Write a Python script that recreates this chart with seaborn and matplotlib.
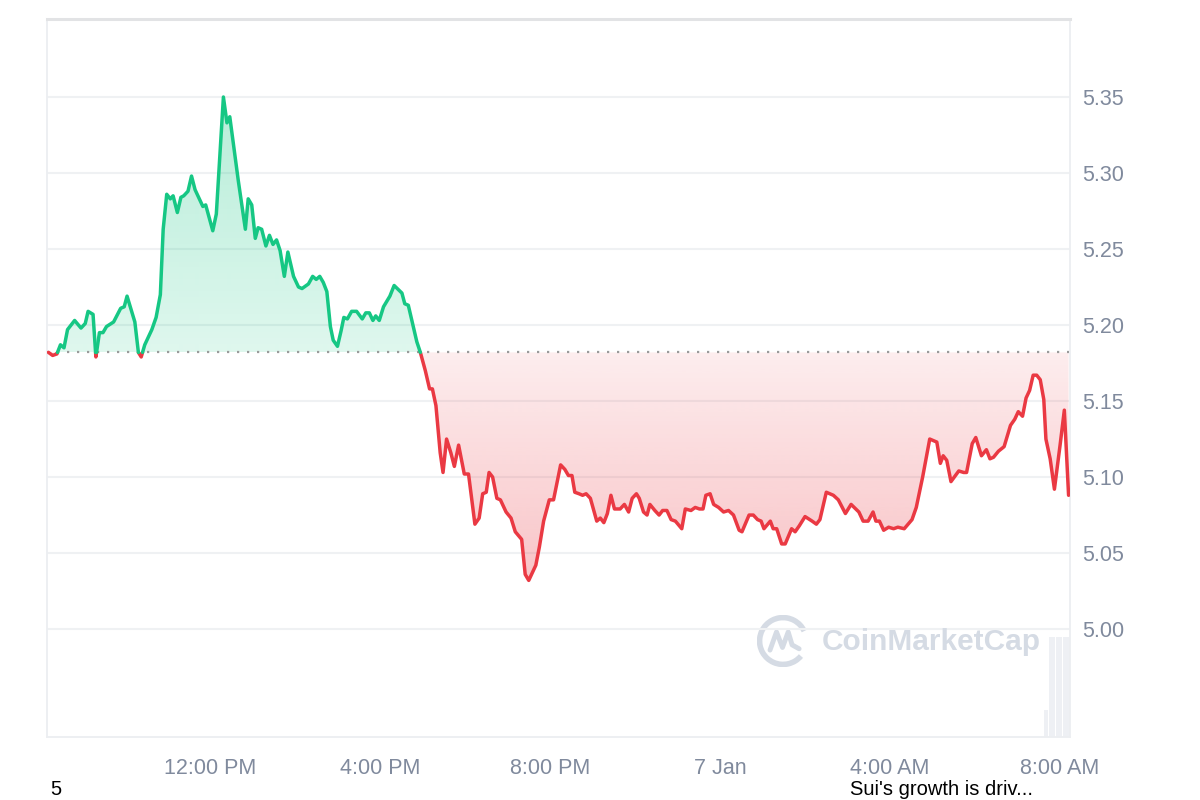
import numpy as np
import pandas as pd
import matplotlib
matplotlib.use('Agg')
import matplotlib.pyplot as plt
import seaborn as sns
from matplotlib.patches import Arc

# SUI price, 1 day view. minutes are counted from 08:10 on 6 Jan
minutes = [2, 8, 14, 19, 24, 29, 39, 48, 54, 58, 65, 69, 74, 79, 84, 94, 104, 109, 113, 124,
           129, 133, 138, 148, 154, 160, 164, 169, 174, 178, 184, 189, 193, 199, 204, 209, 215, 220, 224, 234,
           239, 249, 254, 258, 270, 280, 284, 289, 294, 298, 303, 309, 314, 319, 324, 329, 335, 340, 348, 355,
           360, 369, 375, 380, 385, 390, 395, 400, 404, 410, 415, 419, 424, 430, 437, 445, 450, 455, 460, 464,
           469, 475, 484, 490, 501, 505, 510, 522, 527, 534, 540, 544, 549, 555, 559, 564, 570, 575, 581, 589,
           595, 604, 610, 615, 620, 624, 629, 635, 640, 648, 655, 661, 670, 675, 680, 690, 695, 701, 709, 715,
           725, 731, 736, 741, 745, 751, 756, 761, 767, 776, 781, 786, 791, 796, 801, 809, 815, 821, 826, 832,
           836, 842, 847, 851, 858, 864, 869, 875, 881, 887, 896, 901, 909, 915, 921, 926, 930, 936, 941, 948,
           955, 962, 969, 977, 981, 991, 997, 1003, 1008, 1012, 1021, 1025, 1030, 1037, 1042, 1051, 1056, 1062, 1070, 1080,
           1086, 1091, 1100, 1110, 1117, 1127, 1135, 1146, 1152, 1159, 1166, 1170, 1175, 1181, 1188, 1195, 1201, 1210, 1221, 1227,
           1236, 1246, 1256, 1261, 1265, 1270, 1276, 1287, 1294, 1298, 1306, 1311, 1319, 1326, 1331, 1336, 1343, 1351, 1360, 1366,
           1371, 1377, 1382, 1387, 1392, 1397, 1402, 1407, 1410, 1416, 1422, 1430, 1436, 1442]
prices = [5.182, 5.180, 5.181, 5.187, 5.185, 5.197, 5.203, 5.198, 5.201, 5.209, 5.207, 5.179, 5.195, 5.195, 5.199, 5.202, 5.211, 5.212, 5.219, 5.202,
          5.182, 5.179, 5.187, 5.197, 5.205, 5.220, 5.263, 5.286, 5.283, 5.285, 5.274, 5.284, 5.285, 5.288, 5.298, 5.289, 5.283, 5.278, 5.279, 5.262,
          5.273, 5.350, 5.333, 5.337, 5.295, 5.263, 5.283, 5.279, 5.257, 5.264, 5.263, 5.252, 5.259, 5.253, 5.256, 5.249, 5.232, 5.248, 5.232, 5.225,
          5.224, 5.227, 5.232, 5.230, 5.232, 5.228, 5.222, 5.199, 5.190, 5.186, 5.196, 5.205, 5.204, 5.209, 5.209, 5.204, 5.208, 5.208, 5.203, 5.206,
          5.203, 5.212, 5.219, 5.226, 5.221, 5.214, 5.213, 5.189, 5.182, 5.170, 5.158, 5.158, 5.147, 5.116, 5.103, 5.125, 5.116, 5.107, 5.121, 5.102,
          5.102, 5.069, 5.073, 5.089, 5.090, 5.103, 5.100, 5.086, 5.085, 5.077, 5.073, 5.064, 5.059, 5.036, 5.032, 5.042, 5.054, 5.071, 5.085, 5.085,
          5.108, 5.105, 5.101, 5.101, 5.090, 5.089, 5.088, 5.089, 5.086, 5.071, 5.073, 5.070, 5.076, 5.088, 5.079, 5.079, 5.082, 5.077, 5.086, 5.089,
          5.086, 5.077, 5.075, 5.082, 5.078, 5.075, 5.078, 5.078, 5.072, 5.071, 5.066, 5.079, 5.078, 5.080, 5.079, 5.079, 5.088, 5.089, 5.082, 5.080,
          5.077, 5.078, 5.075, 5.065, 5.064, 5.075, 5.075, 5.072, 5.071, 5.066, 5.071, 5.066, 5.066, 5.056, 5.056, 5.066, 5.064, 5.068, 5.074, 5.071,
          5.069, 5.072, 5.090, 5.088, 5.085, 5.076, 5.082, 5.077, 5.071, 5.071, 5.077, 5.071, 5.071, 5.065, 5.067, 5.066, 5.067, 5.066, 5.072, 5.080,
          5.100, 5.125, 5.123, 5.109, 5.114, 5.111, 5.097, 5.104, 5.103, 5.103, 5.122, 5.126, 5.114, 5.118, 5.112, 5.113, 5.117, 5.120, 5.134, 5.138,
          5.143, 5.140, 5.152, 5.157, 5.167, 5.167, 5.164, 5.151, 5.125, 5.112, 5.092, 5.121, 5.144, 5.088]

# the only volume bars tall enough to show, at the right edge (relative units)
vol_minutes = [1410, 1416, 1421, 1426, 1431, 1436, 1441]
vol_values = [1.1, 4.0, 4.0, 4.0, 4.0, 4.0, 4.0]

tick_minutes = [230, 470, 710, 950, 1190, 1430]
tick_labels = ['12:00 PM', '4:00 PM', '8:00 PM', '7 Jan', '4:00 AM', '8:00 AM']
y_ticks = [5.00, 5.05, 5.10, 5.15, 5.20, 5.25, 5.30, 5.35]

GREEN = '#16c784'
RED = '#ea3943'
LABEL = '#808a9d'

sns.set_style('white')
plt.rcParams['font.family'] = ['Liberation Sans', 'DejaVu Sans']

base = prices[0]

# put a point on the base line wherever the price crosses it
tt, pp = [minutes[0]], [prices[0]]
for i in range(1, len(minutes)):
    a, b = prices[i-1] - base, prices[i] - base
    if a * b < 0:
        f = a / (a - b)
        tt.append(minutes[i-1] + f * (minutes[i] - minutes[i-1]))
        pp.append(base)
    tt.append(minutes[i])
    pp.append(prices[i])
tt = np.array(tt)
pp = np.array(pp)

# break the line into runs above / below the open
rows = []
seg = 0
prev = None
for i in range(len(tt) - 1):
    side = 'up' if (pp[i] + pp[i+1]) / 2 >= base else 'down'
    if side != prev:
        seg += 1
        rows.append((tt[i], pp[i], side, seg))
        prev = side
    rows.append((tt[i+1], pp[i+1], side, seg))
df = pd.DataFrame(rows, columns=['t', 'price', 'side', 'seg'])

fig = plt.figure(figsize=(12, 8), dpi=100)
ax = fig.add_axes([47/1200, 1 - 737/800, 1023/1200, 718/800])
ax2 = ax.twinx()
ax.set_zorder(ax2.get_zorder() + 1)
ax.patch.set_visible(False)

# volume bars behind everything
ax2.bar(vol_minutes, vol_values, width=4.6, color='#eef0f4', linewidth=0)
ax2.set_ylim(0, max(vol_values) * 718 / 100)
ax2.set_yticks([])
for s in ax2.spines.values():
    s.set_visible(False)

# gradient fills, clipped to the area between price and open
def grad_fill(lower, upper, y0, y1, color, a0, a1):
    poly = ax.fill_between(tt, lower, upper, facecolor='none', linewidth=0)
    path = poly.get_paths()[0]
    rgb = matplotlib.colors.to_rgb(color)
    n = 256
    img = np.zeros((n, 1, 4))
    img[:, 0, :3] = rgb
    img[:, 0, 3] = np.linspace(a0, a1, n)
    im = ax.imshow(img, extent=[tt[0], tt[-1], y0, y1], origin='lower',
                   aspect='auto', zorder=1, interpolation='bilinear')
    im.set_clip_path(path, transform=ax.transData)
    poly.remove()

grad_fill(base, np.maximum(pp, base), base, 5.35, GREEN, 0.14, 0.31)
grad_fill(np.minimum(pp, base), base, 5.03, base, RED, 0.30, 0.09)

sns.lineplot(data=df, x='t', y='price', hue='side', units='seg', estimator=None,
             palette={'up': GREEN, 'down': RED}, linewidth=2.5, legend=False,
             ax=ax, zorder=3)

ax.hlines(base, 0, tt[-1], colors='#9a9a9a', linestyles=(0, (1, 3.5)), linewidth=1.6, zorder=2)

ax.set_xlim(0, 1444)
ax.set_ylim(4.929, 5.4013)
ax.set_yticks(y_ticks)
ax.set_yticklabels([f'{v:.2f}' for v in y_ticks])
ax.set_xticks(tick_minutes)
ax.set_xticklabels(tick_labels)
ax.set_xlabel('')
ax.set_ylabel('')
ax.yaxis.tick_right()
ax.tick_params(axis='y', length=0, pad=9, labelsize=15.5, labelcolor=LABEL)
ax.tick_params(axis='x', length=0, pad=15, labelsize=15.5, labelcolor=LABEL)
ax.yaxis.grid(True, color='#eff1f3', linewidth=1.5)
ax.xaxis.grid(False)
ax.set_axisbelow(True)
for name, s in ax.spines.items():
    s.set_visible(True)
    s.set_color('#eceef1')
    s.set_linewidth(1.3)
ax.spines['top'].set_color('#e2e3e5')
ax.spines['top'].set_linewidth(2.2)

# watermark
wm = '#d5dbe4'
fig.text(822/1200, 1 - 642/800, 'CoinMarketCap', color=wm, fontsize=21.5,
         fontweight='bold', va='center', ha='left')
lax = fig.add_axes([757/1200, 1 - 667/800, 52/1200, 52/800])
lax.set_xlim(-1, 1)
lax.set_ylim(-1, 1)
lax.set_aspect('equal')
lax.axis('off')
lax.add_patch(Arc((0, 0), 1.8, 1.8, theta1=25, theta2=320, color=wm, linewidth=4))
lax.plot([-0.5, -0.25, -0.02, 0.2, 0.35, 0.62], [-0.35, 0.35, -0.25, 0.35, -0.15, -0.3],
         color=wm, linewidth=3.5, solid_capstyle='round', solid_joinstyle='round')

# text along the bottom edge of the screenshot
fig.text(50/1200, 1/800, '5', fontsize=14.5, color='black', va='bottom', ha='left')
fig.text(850/1200, 1/800, "Sui's growth is driv...", fontsize=14.5, color='black',
         va='bottom', ha='left')

fig.savefig('out.png', dpi=100)
